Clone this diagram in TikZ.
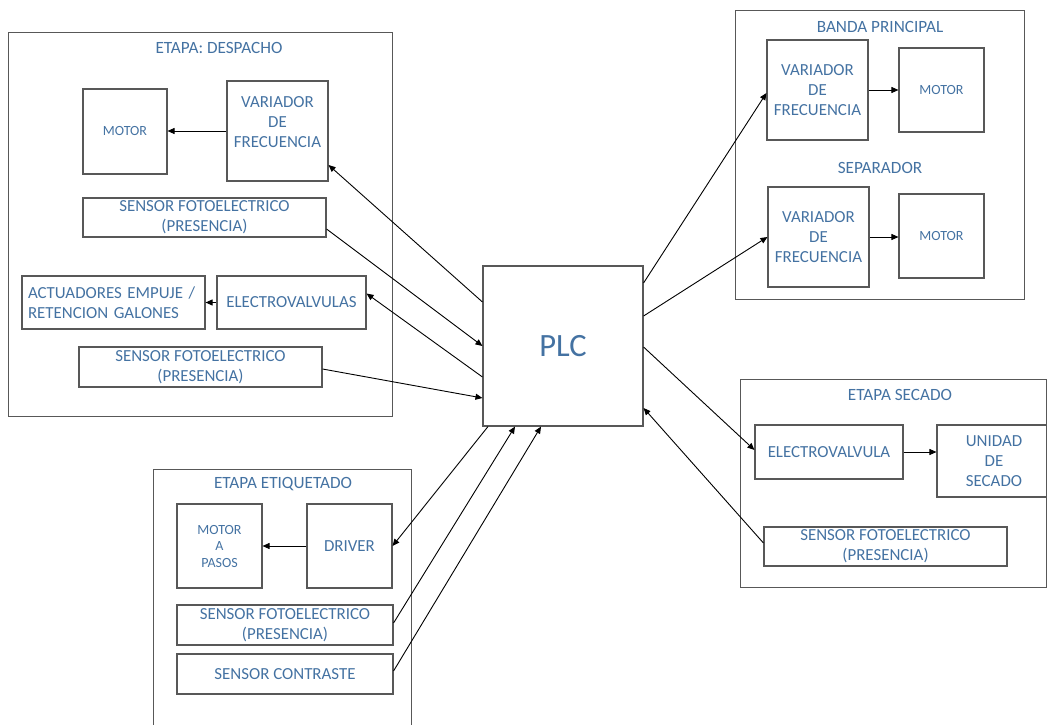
\documentclass[tikz,border=0pt]{standalone}
\usepackage{fontspec}
\setmainfont{Carlito}
\usetikzlibrary{arrows.meta,calc}
\definecolor{txtblue}{RGB}{68,114,162}
\definecolor{boxgray}{RGB}{88,88,88}

\begin{document}
\begin{tikzpicture}[x=1pt,y=-1pt,
  blk/.style={draw=boxgray,line width=1.1pt,text=txtblue,align=center,inner sep=2pt,
    font=\fontsize{16.9}{20}\selectfont},
  small/.style={font=\fontsize{14}{16.5}\selectfont},
  frame/.style={draw=boxgray,line width=1pt},
  ttl/.style={text=txtblue,font=\fontsize{17.2}{20}\selectfont},
  link/.style={line width=.9pt,-{Triangle[length=7pt,width=6pt]}}]
 \useasboundingbox (0,0) rectangle (1047,725);
 % despacho
 \draw[frame] (8,33) rectangle (392,416);
 \node[ttl] (tdesp) at (219,48) {ETAPA: DESPACHO};
 \node[blk,small,minimum width=84pt,minimum height=85pt] (dmot) at (125,131.5) {MOTOR};
 \node[blk,minimum width=101pt,minimum height=100pt,text depth=17pt] (dvar) at (277.5,131) {VARIADOR\\DE\\FRECUENCIA};
 \node[blk,minimum width=243pt,minimum height=39pt] (dsen1) at (204.5,217.5) {SENSOR FOTOELECTRICO\\(PRESENCIA)};
 \node[blk,align=left,text width=171pt,inner xsep=6pt,minimum height=53pt] (dact) at (113.5,302.5) {ACTUADORES EMPUJE /\\RETENCION GALONES};
 \node[blk,minimum width=149pt,minimum height=53pt] (dev) at (291.5,302.5) {ELECTROVALVULAS};
 \node[blk,minimum width=243pt,minimum height=40pt] (dsen2) at (200.5,367) {SENSOR FOTOELECTRICO\\(PRESENCIA)};
 \draw[link] (dvar.west) -- (dvar.west -| dmot.east);
 \draw[link] (dev.west) -- (dev.west -| dact.east);
 % plc
 \node[blk,minimum width=160pt,minimum height=160pt,font=\fontsize{32.5}{38}\selectfont] (plc) at (563,346) {PLC};
 % banda principal + separador
 \draw[frame] (735,11) rectangle (1024,299);
 \node[ttl] (tbanda) at (880,27) {BANDA PRINCIPAL};
 \node[blk,minimum width=101pt,minimum height=100pt] (bvar) at (817.5,90) {VARIADOR\\DE\\FRECUENCIA};
 \node[blk,small,minimum width=85pt,minimum height=84pt] (bmot) at (941.5,90) {MOTOR};
 \node[ttl] (tsep) at (880,168) {SEPARADOR};
 \node[blk,minimum width=101pt,minimum height=100pt] (svar) at (818.5,237) {VARIADOR\\DE\\FRECUENCIA};
 \node[blk,small,minimum width=85pt,minimum height=84pt] (smot) at (941.5,236) {MOTOR};
 \draw[link] (bvar.east) -- (bvar.east -| bmot.west);
 \draw[link] (svar.east) -- (svar.east -| smot.west);
 % secado
 \draw[frame] (740,379) rectangle (1046,587);
 \node[ttl] (tsec) at (900,395) {ETAPA SECADO};
 \node[blk,minimum width=148pt,minimum height=54pt] (sev) at (829,452) {ELECTROVALVULA};
 \node[blk,minimum width=114pt,minimum height=72pt] (suni) at (994,461) {UNIDAD\\DE\\SECADO};
 \node[blk,minimum width=243pt,minimum height=39pt] (ssen) at (885.5,546.5) {SENSOR FOTOELECTRICO\\(PRESENCIA)};
 \draw[link] (sev.east) -- (sev.east -| suni.west);
 % etiquetado
 \draw[frame] (153,740) -- (153,469) -- (411,469) -- (411,740);
 \node[ttl] (tetq) at (283,484) {ETAPA ETIQUETADO};
 \node[blk,small,minimum width=85pt,minimum height=84pt] (emot) at (219.5,546) {MOTOR\\A\\PASOS};
 \node[blk,minimum width=85pt,minimum height=84pt] (edrv) at (349.5,546) {DRIVER};
 \node[blk,minimum width=216pt,minimum height=40pt] (esen) at (285,625) {SENSOR FOTOELECTRICO\\(PRESENCIA)};
 \node[blk,minimum width=216pt,minimum height=40pt] (econ) at (285,674) {SENSOR CONTRASTE};
 \draw[link] (edrv.west) -- (edrv.west -| emot.east);
 % plc links
 \draw[link] ([yshift=44pt]plc.west) -- ([yshift=-34pt]dvar.east);
 \draw[link] ([yshift=-11.5pt]dsen1.east) -- (plc.west);
 \draw[link] ([yshift=-31pt]plc.west) -- ([yshift=9pt]dev.east);
 \draw[link] ([yshift=-2pt]dsen2.east) -- ([yshift=-52pt]plc.west);
 \draw[link] ([yshift=63pt]plc.east) -- ([yshift=-3pt]bvar.west);
 \draw[link] ([yshift=30pt]plc.east) -- (svar.west);
 \draw[link] ([yshift=-1pt]plc.east) -- ([yshift=2pt]sev.west);
 \draw[link] ([yshift=3.5pt]ssen.west) -- ([yshift=-62pt]plc.east);
 \draw[link] ([xshift=-75pt]plc.south) -- (edrv.east);
 \draw[link] ([yshift=2pt]esen.east) -- ([xshift=-48pt]plc.south);
 \draw[link] ([yshift=3pt]econ.east) -- ([xshift=-22pt]plc.south);
\end{tikzpicture}
\end{document}
